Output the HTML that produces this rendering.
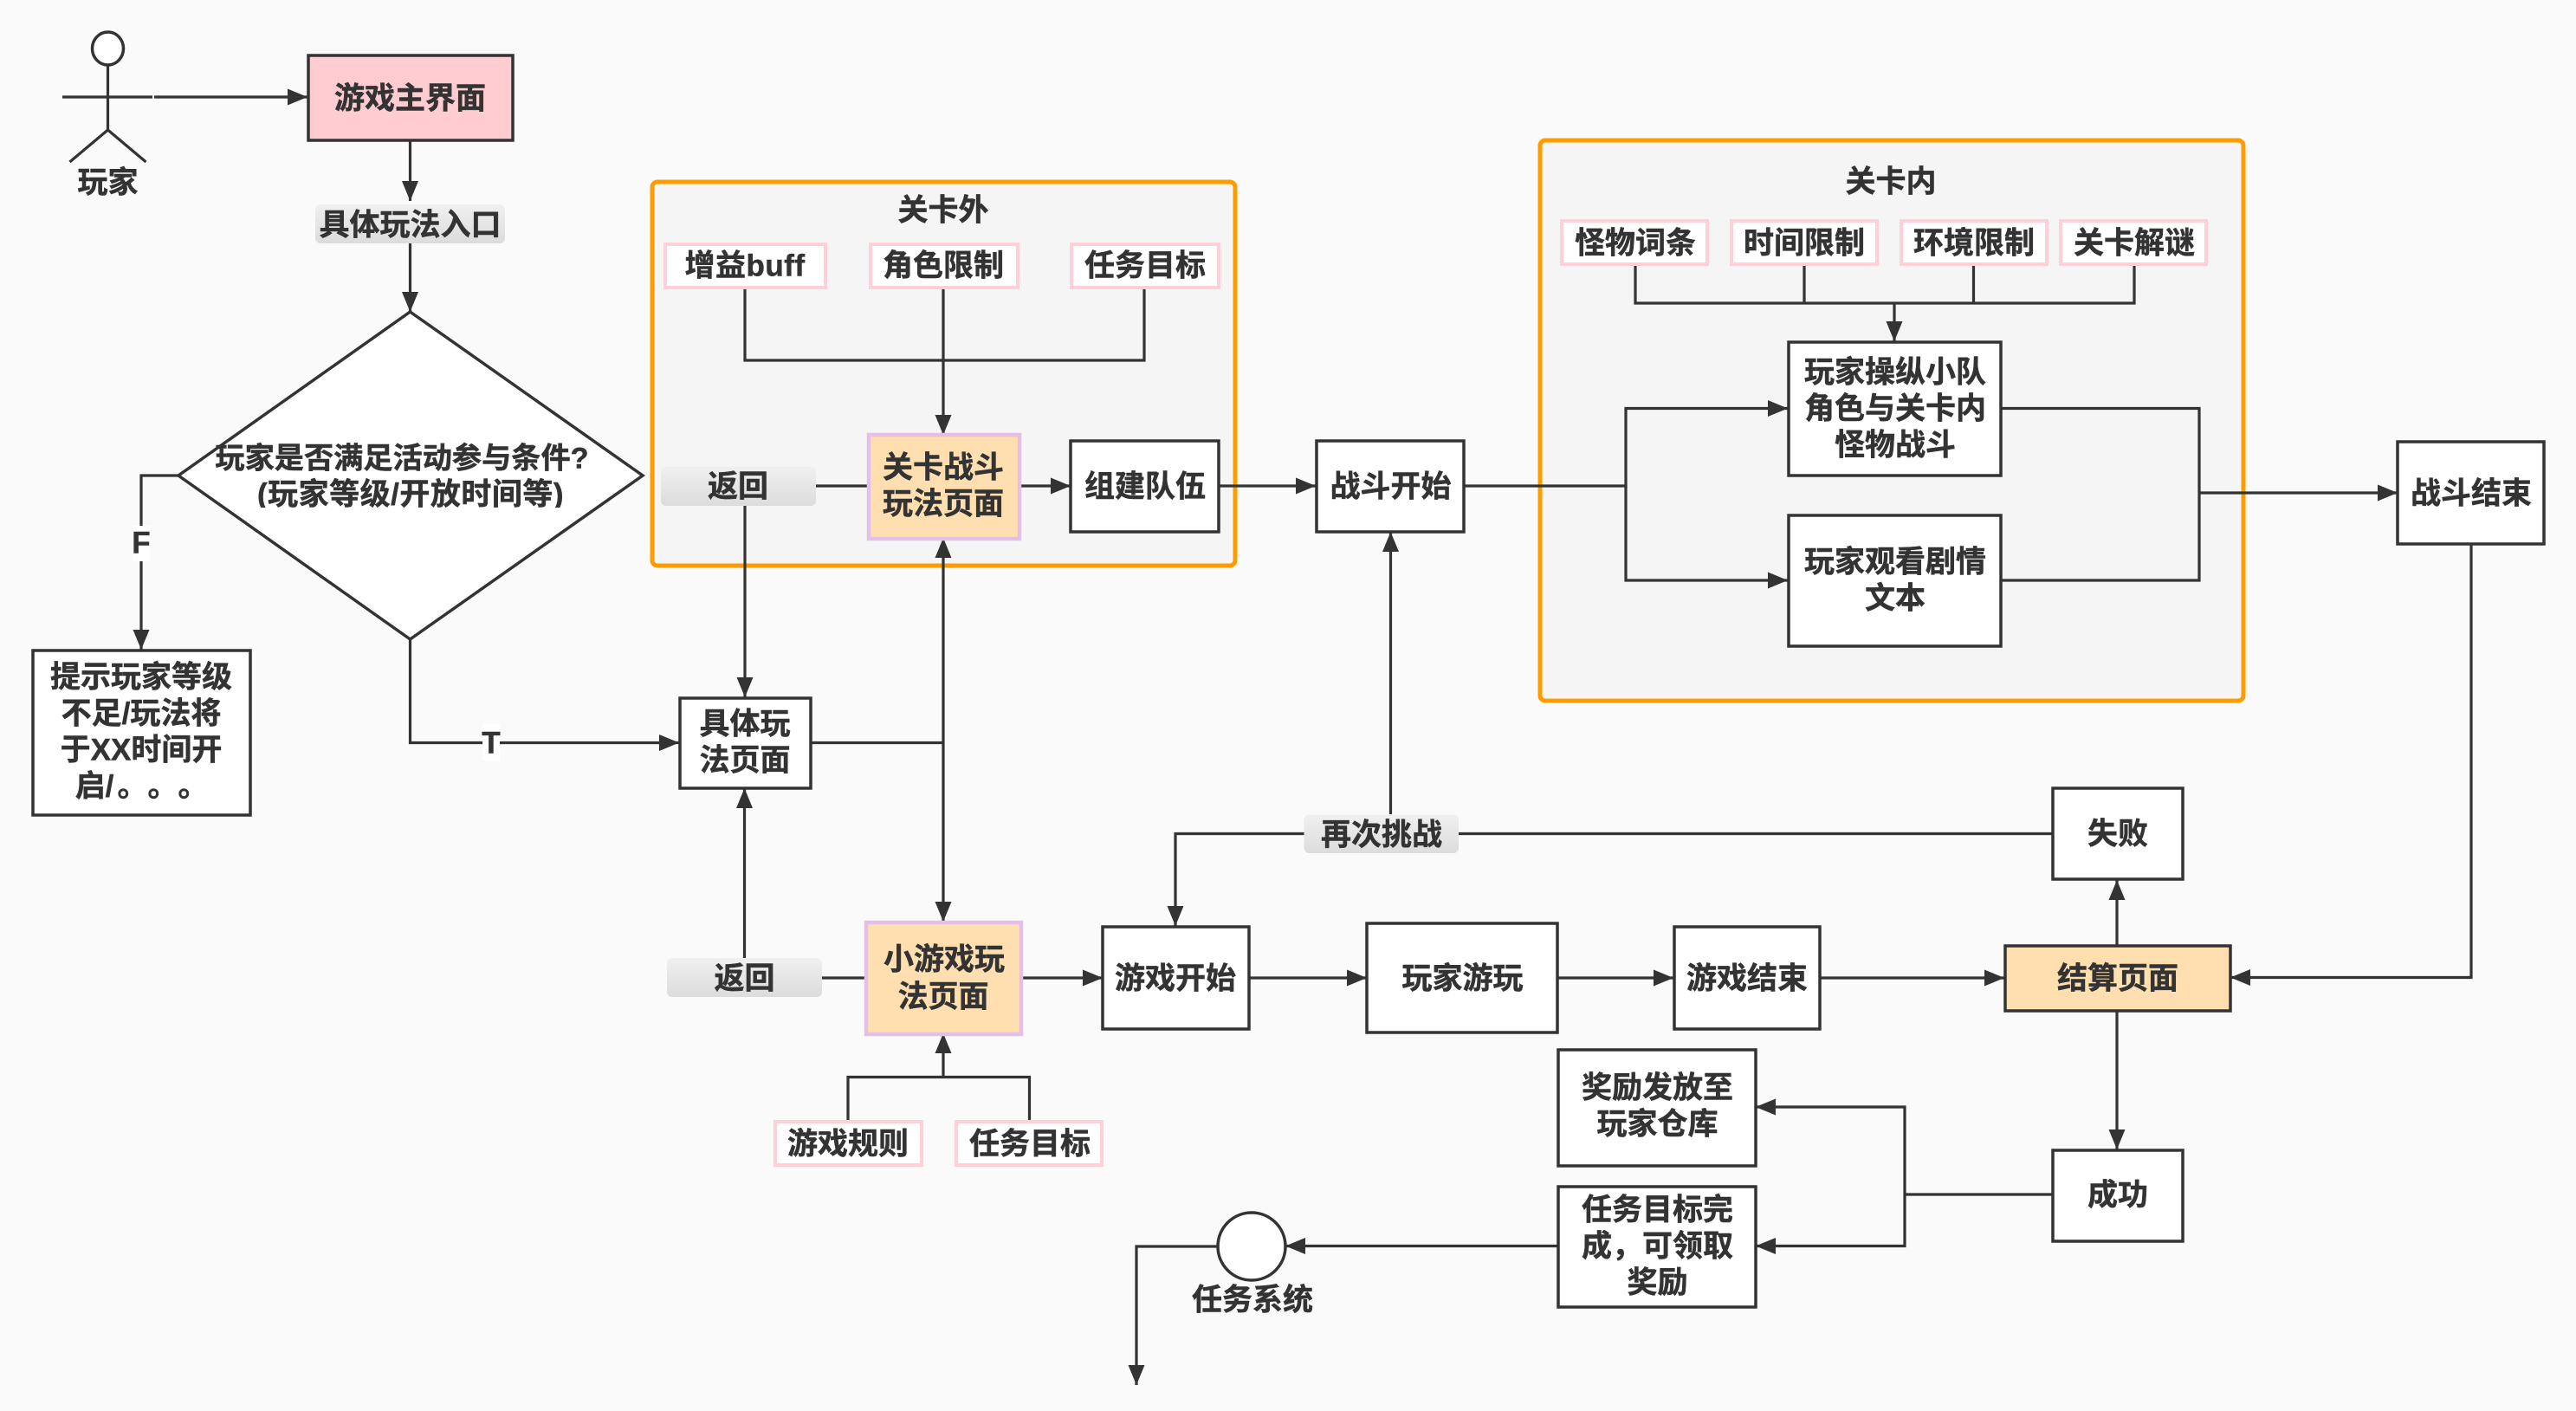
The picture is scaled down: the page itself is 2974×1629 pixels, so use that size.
<!DOCTYPE html>
<html lang="zh"><head><meta charset="utf-8"><title>玩法流程图</title>
<style>
html,body{margin:0;padding:0;background:#fafafa}
svg{display:block}
text{font-family:"Liberation Sans","Noto Sans CJK SC",sans-serif;font-weight:700;font-size:35px;fill:#333;text-anchor:middle;stroke:#333;stroke-width:.5px;transform:translateY(.5px)}
.b{fill:#fff;stroke:#333;stroke-width:3.5}
.p{fill:#fff;stroke:#ffd0d8;stroke-width:4}
.o{fill:#f5f5f5;stroke:#ff9c00;stroke-width:5}
.l{fill:none;stroke:#333;stroke-width:3.2}
.a{marker-end:url(#m)}
</style></head><body>
<svg width="2974" height="1629" viewBox="0 0 2974 1629" xmlns="http://www.w3.org/2000/svg">
<defs>
<marker id="m" markerUnits="userSpaceOnUse" markerWidth="24" markerHeight="20" refX="23" refY="10" orient="auto"><path d="M0,0.5L23,10L0,19.5z" fill="#333"/></marker>
<linearGradient id="g" x1="0" y1="0" x2="0" y2="1"><stop offset="0" stop-color="#f0f0f0"/><stop offset="1" stop-color="#dcdcdc"/></linearGradient>
<clipPath id="dc"><rect x="200" y="540" width="540" height="46"/></clipPath>
</defs>
<rect width="2974" height="1629" fill="#fafafa"/>

<!-- containers -->
<rect class="o" x="753" y="210" width="673" height="443" rx="6"/>
<rect class="o" x="1778" y="162" width="812" height="647" rx="6"/>

<!-- connectors -->
<path class="l" d="M72 112H176"/>
<path class="l a" d="M178 112H355"/>
<path class="l a" d="M473.5 162V232"/>
<path class="l a" d="M473.5 281V360"/>
<path class="l a" d="M206 549H163V750"/>
<path class="l a" d="M473.5 738V857.5H784"/>
<path class="l" d="M860 332V416H1321V332"/>
<path class="l a" d="M1089 332V502"/>
<path class="l" d="M942 561H1001"/>
<path class="l a" d="M1177 561H1236"/>
<path class="l a" d="M1407 561H1519"/>
<path class="l a" d="M860 584V805"/>
<path class="l" d="M936 857.5H1089"/>
<path class="l a" d="M1089 857V621"/>
<path class="l a" d="M1089 857V1064"/>
<path class="l a" d="M859.5 1106V910"/>
<path class="l" d="M949 1129H998"/>
<path class="l a" d="M1180 1129H1273"/>
<path class="l a" d="M1442 1129H1578"/>
<path class="l a" d="M1799 1129H1932"/>
<path class="l a" d="M2101 1129H2314"/>
<path class="l" d="M979 1294V1243.5H1188.5V1294"/>
<path class="l a" d="M1089 1243.5V1193"/>
<path class="l a" d="M1605.5 940V614"/>
<path class="l" d="M2369.5 962.5H1684"/>
<path class="l a" d="M1505.5 962.5H1357V1069"/>
<path class="l a" d="M2444 1091V1016"/>
<path class="l a" d="M2444 1167V1327"/>
<path class="l" d="M2369.5 1379H2199"/>
<path class="l a" d="M2199 1379V1278H2027"/>
<path class="l a" d="M2199 1379V1438.5H2027"/>
<path class="l a" d="M1798 1438.5H1484"/>
<path class="l a" d="M1406 1439H1312V1599"/>
<path class="l" d="M1888 306V350H2464V306M2083 306V350M2278.5 306V350"/>
<path class="l a" d="M2187 350V394"/>
<path class="l a" d="M1690 561H1877V471.5H2064"/>
<path class="l a" d="M1877 561V670H2064"/>
<path class="l" d="M2310 471.5H2539V670H2310"/>
<path class="l a" d="M2539 569H2768"/>
<path class="l a" d="M2853 628V1128.5H2575"/>

<!-- actor -->
<ellipse cx="124.5" cy="56" rx="18" ry="19" fill="#fff" stroke="#333" stroke-width="3.5"/>
<path class="l" d="M124.5 75V150M80.5 187L124.5 150L168.500 187"/>
<text x="124.5" y="222">玩家</text>

<!-- main -->
<rect x="356" y="64" width="236" height="98" fill="#ffccd2" stroke="#333" stroke-width="3.5"/>
<text x="473.500" y="125">游戏主界面</text>
<rect x="364" y="236" width="219" height="45" rx="6" fill="url(#g)"/>
<text x="473.5" y="271">具体玩法入口</text>

<!-- diamond -->
<path d="M473.500 360L742 549L473.500 738L206 549Z" fill="#fff" stroke="#333" stroke-width="3.500"/>
<text x="464" y="540" style="font-size:34.2px">玩家是否满足活动参与条件?</text>
<g clip-path="url(#dc)"><text x="474" y="582" style="letter-spacing:.5px">(玩家等级/开放时间等)</text></g>
<rect x="153" y="607" width="20" height="41" fill="#fff"/>
<text x="163" y="638">F</text>
<rect x="557" y="836" width="20" height="42" fill="#fff"/>
<text x="567" y="869">T</text>

<rect class="b" x="38" y="751" width="251" height="190"/>
<text x="163" y="793">提示玩家等级</text>
<text x="163" y="835">不足/玩法将</text>
<text x="163" y="877">于XX时间开</text>
<text x="109" y="919">启/</text>
<text x="153" y="919">。</text>
<text x="188" y="919">。</text>
<text x="223" y="919">。</text>

<!-- outside level -->
<text x="1089" y="254">关卡外</text>
<rect class="p" x="768" y="282" width="185" height="50"/>
<text x="860" y="318" style="letter-spacing:.5px">增益buff</text>
<rect class="p" x="1005" y="282" width="170" height="50"/>
<text x="1089" y="318">角色限制</text>
<rect class="p" x="1237" y="282" width="170" height="50"/>
<text x="1322" y="318">任务目标</text>
<rect x="763" y="539" width="179" height="45" rx="6" fill="url(#g)"/>
<text x="852" y="573">返回</text>
<rect x="1003" y="502" width="174" height="120" fill="#ffdfb0" stroke="#e4c0e8" stroke-width="4.500"/>
<text x="1089" y="551">关卡战斗</text>
<text x="1089" y="593">玩法页面</text>
<rect class="b" x="1236" y="509" width="171" height="105"/>
<text x="1322" y="573">组建队伍</text>
<rect class="b" x="785" y="806" width="151" height="104"/>
<text x="860" y="847">具体玩</text>
<text x="860" y="889">法页面</text>

<!-- in-level -->
<rect class="b" x="1520" y="509" width="170" height="105"/>
<text x="1605.5" y="573">战斗开始</text>
<text x="2183" y="221">关卡内</text>
<rect class="p" x="1803" y="255" width="168" height="50"/>
<text x="1888" y="292">怪物词条</text>
<rect class="p" x="1999" y="255" width="168" height="50"/>
<text x="2083" y="292">时间限制</text>
<rect class="p" x="2195" y="255" width="168" height="50"/>
<text x="2279" y="292">环境限制</text>
<rect class="p" x="2379" y="255" width="168" height="50"/>
<text x="2464" y="292">关卡解谜</text>
<rect class="b" x="2065" y="395" width="245" height="154"/>
<text x="2188" y="441">玩家操纵小队</text>
<text x="2188" y="483">角色与关卡内</text>
<text x="2188" y="525">怪物战斗</text>
<rect class="b" x="2065" y="595" width="245" height="151"/>
<text x="2188" y="660">玩家观看剧情</text>
<text x="2188" y="702">文本</text>
<rect class="b" x="2768" y="510" width="169" height="118"/>
<text x="2853" y="581">战斗结束</text>

<!-- minigame -->
<rect x="1000" y="1065" width="179" height="129" fill="#ffdfb0" stroke="#e4c0e8" stroke-width="4.500"/>
<text x="1090" y="1119">小游戏玩</text>
<text x="1089" y="1162">法页面</text>
<rect x="770" y="1106" width="179" height="45" rx="6" fill="url(#g)"/>
<text x="859.5" y="1141">返回</text>
<rect class="p" x="895" y="1295" width="169" height="50"/>
<text x="979" y="1332">游戏规则</text>
<rect class="p" x="1104" y="1295" width="168" height="50"/>
<text x="1189" y="1332">任务目标</text>
<rect class="b" x="1273" y="1070" width="169" height="118"/>
<text x="1357" y="1141">游戏开始</text>
<rect class="b" x="1578" y="1066" width="220" height="126"/>
<text x="1688.5" y="1141">玩家游玩</text>
<rect class="b" x="1933" y="1070" width="168" height="118"/>
<text x="2017" y="1141">游戏结束</text>
<rect x="2315" y="1092" width="260" height="75" fill="#ffdfb0" stroke="#333" stroke-width="3.500"/>
<text x="2445" y="1141">结算页面</text>
<rect x="1505.5" y="940.500" width="178.500" height="44.500" rx="6" fill="url(#g)"/>
<text x="1595" y="975">再次挑战</text>
<rect class="b" x="2370" y="910" width="150" height="105"/>
<text x="2445" y="974">失败</text>
<rect class="b" x="2370" y="1328" width="150" height="105"/>
<text x="2445" y="1391">成功</text>
<rect class="b" x="1799" y="1212" width="228" height="134"/>
<text x="1913.5" y="1267">奖励发放至</text>
<text x="1913.5" y="1309">玩家仓库</text>
<rect class="b" x="1799" y="1370" width="228" height="139"/>
<text x="1913.5" y="1408">任务目标完</text>
<text x="1913.5" y="1450">成，可领取</text>
<text x="1913.5" y="1492">奖励</text>
<ellipse cx="1445" cy="1439" rx="39" ry="39" fill="#fff" stroke="#333" stroke-width="3.500"/>
<text x="1446" y="1512">任务系统</text>
</svg>
</body></html>
